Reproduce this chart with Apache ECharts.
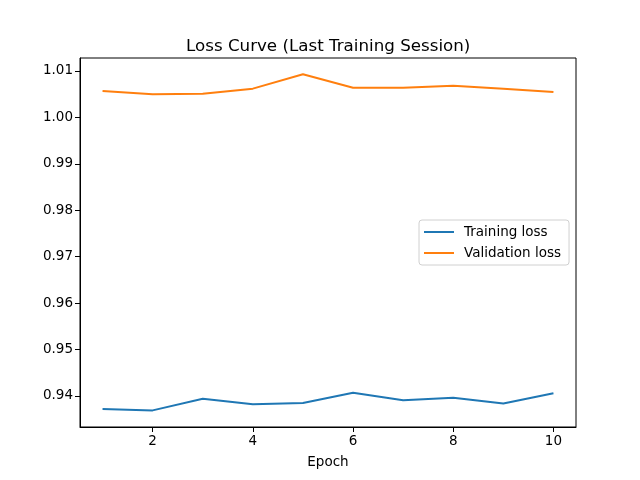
<!DOCTYPE html>
<html>
<head>
<meta charset="utf-8">
<script src="https://cdn.jsdelivr.net/npm/echarts@6/dist/echarts.min.js"></script>
<style>
  html, body { margin: 0; padding: 0; background: #fff; }
  #chart { width: 640px; height: 480px; }
</style>
</head>
<body>
<div id="chart"></div>
<script>
// values
const epochs = [1, 2, 3, 4, 5, 6, 7, 8, 9, 10];
const trainLoss = [0.9372, 0.9369, 0.9394, 0.9382, 0.9385, 0.9407, 0.9391, 0.9396, 0.9384, 0.9406];
const valLoss = [1.0057, 1.0050, 1.0051, 1.0062, 1.0093, 1.0064, 1.0064, 1.0068, 1.0062, 1.0055];
const xTicks = [2, 4, 6, 8, 10];
const yTicks = [0.94, 0.95, 0.96, 0.97, 0.98, 0.99, 1.00, 1.01];

const font = 'DejaVu Sans';
const chart = echarts.init(document.getElementById('chart'), null, { renderer: 'canvas' });

const pairs = (ys) => epochs.map((x, i) => [x, ys[i]]);

chart.setOption({
  animation: false,
  backgroundColor: '#fff',
  title: {
    text: 'Loss Curve (Last Training Session)',
    left: 181, top: 33,
    textStyle: { fontFamily: font, fontSize: 16.7, fontWeight: 'normal', color: '#000' }
  },
  grid: {
    left: 80, right: 64, top: 58, bottom: 53,
    show: true, borderColor: '#000', borderWidth: 1, backgroundColor: '#fff'
  },
  legend: {
    orient: 'vertical',
    left: 419, top: 220,
    padding: [5, 8, 5, 5],
    itemGap: 7,
    itemWidth: 30, itemHeight: 2,
    icon: 'rect',
    borderColor: '#d0d0d0', borderWidth: 1, borderRadius: 3,
    backgroundColor: '#fff',
    textStyle: { fontFamily: font, fontSize: 13.5, color: '#000', padding: [0, 0, 0, 5] },
    data: ['Training loss', 'Validation loss']
  },
  xAxis: {
    type: 'value',
    min: 0.55, max: 10.45,
    name: 'Epoch', nameLocation: 'middle', nameGap: 28,
    nameTextStyle: { fontFamily: font, fontSize: 13.5, color: '#000' },
    axisLine: { show: true, onZero: false, lineStyle: { color: '#000' } },
    axisTick: { show: true, length: 5, customValues: xTicks, lineStyle: { color: '#000' } },
    axisLabel: { customValues: xTicks, fontFamily: font, fontSize: 13.5, color: '#000', margin: 7 },
    splitLine: { show: false }
  },
  yAxis: {
    type: 'value',
    min: 0.93332, max: 1.0128,
    axisLine: { show: true, onZero: false, lineStyle: { color: '#000' } },
    axisTick: { show: true, length: 5, customValues: yTicks, lineStyle: { color: '#000' } },
    axisLabel: {
      customValues: yTicks, fontFamily: font, fontSize: 13.5, color: '#000', margin: 7,
      formatter: (v) => v.toFixed(2)
    },
    splitLine: { show: false }
  },
  series: [
    {
      name: 'Training loss', type: 'line', data: pairs(trainLoss),
      symbol: 'none', color: '#1f77b4', lineStyle: { width: 2 }
    },
    {
      name: 'Validation loss', type: 'line', data: pairs(valLoss),
      symbol: 'none', color: '#ff7f0e', lineStyle: { width: 2 }
    }
  ]
});
</script>
</body>
</html>
